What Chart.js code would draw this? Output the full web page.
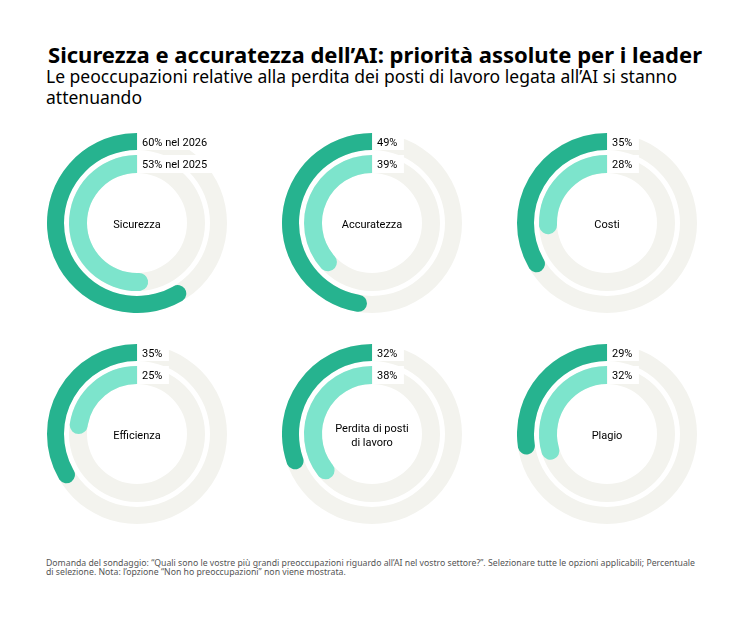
<!DOCTYPE html>
<html><head><meta charset="utf-8">
<script src="https://cdn.jsdelivr.net/npm/chart.js@4/dist/chart.umd.min.js"></script>
<style>
html,body{margin:0;padding:0;background:#fff;}
body{width:749px;height:623px;position:relative;overflow:hidden;font-family:"Noto Sans",sans-serif;}
.t{position:absolute;white-space:nowrap;transform-origin:0 0;color:#000;}
#title{left:48px;top:45px;font-size:21px;line-height:21px;font-weight:bold;}
#sub1{left:46px;top:67px;font-size:18px;line-height:18px;}
#sub2{left:46px;top:88px;font-size:18px;line-height:18px;}
#fn1{left:46px;top:559px;font-size:8px;line-height:8px;color:#555;}
#fn2{left:46px;top:568px;font-size:8px;line-height:8px;color:#555;}
canvas.c{position:absolute;}
</style>
</head><body>
<div class="t" id="title">Sicurezza e accuratezza dell’AI: priorità assolute per i leader</div>
<div class="t" id="sub1">Le peoccupazioni relative alla perdita dei posti di lavoro legata all’AI si stanno</div>
<div class="t" id="sub2">attenuando</div>
<div class="t" id="fn1">Domanda del sondaggio: “Quali sono le vostre più grandi preoccupazioni riguardo all’AI nel vostro settore?”. Selezionare tutte le opzioni applicabili; Percentuale</div>
<div class="t" id="fn2">di selezione. Nota: l’opzione “Non ho preoccupazioni” non viene mostrata.</div>
<script>
// ---- data ----
const categories = ["Sicurezza","Accuratezza","Costi","Efficienza","Perdita di posti di lavoro","Plagio"];
const centerLabels = [["Sicurezza"],["Accuratezza"],["Costi"],["Efficienza"],["Perdita di posti","di lavoro"],["Plagio"]];
const values2026 = [60,49,35,35,32,29];
const values2025 = [53,39,28,25,38,32];
const years = ["2026","2025"];

// ---- styles ----
const DARK = "#26b38f";
const LIGHT = "#7de4cc";
const TRACK = "#f3f3ee";
const colX = [137,372,607];
const rowY = [223,434];
const SIZE = 180;

function fit(id, target){
  const el = document.getElementById(id);
  const w = el.getBoundingClientRect().width;
  const s = target / w;
  el.style.transform = "scaleX(" + s + ")";
  return s;
}
fit("title", 654);
const s2 = fit("sub1", 631);
document.getElementById("sub2").style.transform = "scaleX(" + s2 + ")";
const s3 = fit("fn1", 649);
document.getElementById("fn2").style.transform = "scaleX(" + s3 + ")";

const ringPlugin = {
  id: "ringInfo",
  beforeDatasetsDraw(chart){
    const ctx = chart.ctx;
    [0,2].forEach(i => {
      const arc = chart.getDatasetMeta(i).data[0];
      const p = arc.getProps(["x","y","innerRadius","outerRadius"], true);
      ctx.save();
      ctx.beginPath();
      ctx.arc(p.x, p.y, p.outerRadius, 0, Math.PI*2);
      ctx.arc(p.x, p.y, p.innerRadius, 0, Math.PI*2, true);
      ctx.fillStyle = TRACK;
      ctx.fill();
      ctx.restore();
    });
  },
  afterDatasetsDraw(chart){
    const ctx = chart.ctx;
    const opt = chart.options.plugins.ringInfo;
    const k = opt.index;
    ctx.save();
    ctx.font = "11px Roboto";
    ctx.textBaseline = "middle";
    ctx.textAlign = "left";
    [0,2].forEach((di, j) => {
      const arc = chart.getDatasetMeta(di).data[0];
      const p = arc.getProps(["x","y","innerRadius","outerRadius"], true);
      const v = chart.data.datasets[di].data[1];
      const txt = v + "%" + (k === 0 ? " nel " + years[j] : "");
      const tw = ctx.measureText(txt).width;
      const ty = p.y - (p.innerRadius + p.outerRadius)/2;
      ctx.fillStyle = "#fff";
      ctx.fillRect(p.x + 0.5, p.y - p.outerRadius, tw + 11, p.outerRadius - p.innerRadius);
      ctx.fillStyle = "#000";
      ctx.fillText(txt, p.x + 5, ty + 1.5);
    });
    // center label
    const arc0 = chart.getDatasetMeta(0).data[0];
    const lines = opt.center;
    ctx.textAlign = "center";
    const lh = 14;
    const y0 = arc0.y + 2 - (lines.length - 1) * lh / 2;
    lines.forEach((l, i) => ctx.fillText(l, arc0.x, y0 + i * lh));
    ctx.restore();
  }
};

const capRadius = (ctx) => ctx.dataIndex === 1 ? {outerStart: 20, innerStart: 20, outerEnd: 0, innerEnd: 0} : 0;

categories.forEach((cat, k) => {
  const cv = document.createElement("canvas");
  cv.className = "c";
  cv.width = SIZE; cv.height = SIZE;
  cv.style.left = (colX[k % 3] - SIZE/2) + "px";
  cv.style.top = (rowY[Math.floor(k / 3)] - SIZE/2) + "px";
  document.body.appendChild(cv);
  new Chart(cv, {
    type: "doughnut",
    data: {
      labels: ["rest", cat],
      datasets: [
        {data: [100 - values2026[k], values2026[k]], backgroundColor: ["rgba(0,0,0,0)", DARK], borderWidth: 0, weight: 17, borderRadius: capRadius},
        {data: [100], backgroundColor: ["rgba(0,0,0,0)"], borderWidth: 0, weight: 5},
        {data: [100 - values2025[k], values2025[k]], backgroundColor: ["rgba(0,0,0,0)", LIGHT], borderWidth: 0, weight: 18, borderRadius: capRadius}
      ]
    },
    options: {
      responsive: false,
      animation: false,
      events: [],
      cutout: 50,
      rotation: 0,
      circumference: 360,
      layout: {padding: 0},
      plugins: {
        legend: {display: false},
        tooltip: {enabled: false},
        ringInfo: {index: k, center: centerLabels[k]}
      }
    },
    plugins: [ringPlugin]
  });
});
</script>
</body></html>
